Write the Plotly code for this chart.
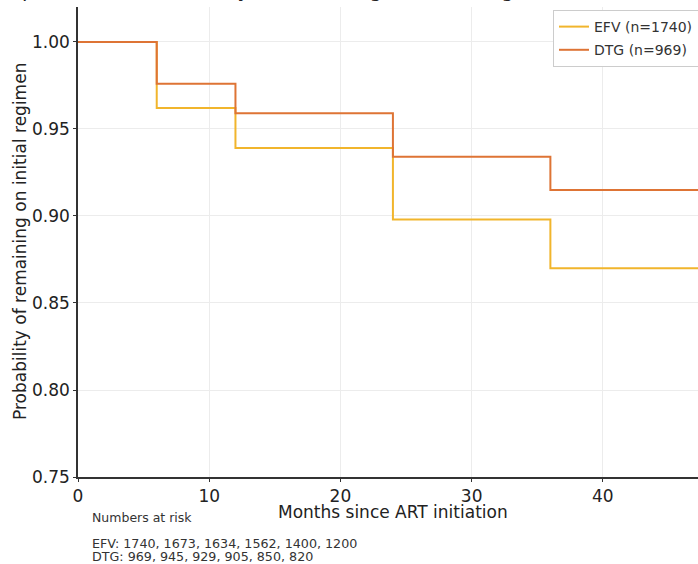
import plotly.graph_objects as go

# Data
months = [0, 6, 12, 24, 36, 48]
efv_surv = [1.000, 0.962, 0.939, 0.898, 0.870, 0.870]
dtg_surv = [1.000, 0.976, 0.959, 0.934, 0.915, 0.915]
efv_name = "EFV (n=1740)"
dtg_name = "DTG (n=969)"
efv_risk = [1740, 1673, 1634, 1562, 1400, 1200]
dtg_risk = [969, 945, 929, 905, 850, 820]
x_ticks = [0, 10, 20, 30, 40]
y_ticks = [0.75, 0.80, 0.85, 0.90, 0.95, 1.00]

EFV_COLOR = "#F1B52C"
DTG_COLOR = "#DE7435"
FONT = "DejaVu Sans"

fig = go.Figure()
fig.add_trace(go.Scatter(x=months, y=efv_surv, mode="lines", name=efv_name, legendgroup="efv",
                         line=dict(shape="hv", color=EFV_COLOR, width=2)))
fig.add_trace(go.Scatter(x=months, y=dtg_surv, mode="lines", name=dtg_name, legendgroup="dtg",
                         line=dict(shape="hv", color=DTG_COLOR, width=2)))

W, H = 698, 564
L, R, T, B = 78, 0, 7, 87
ph = H - T - B
pw = W - L - R

def px_x(p):
    return (p - L) / pw

def px_y(p):
    return (H - B - p) / ph

fig.update_layout(
    width=W, height=H,
    margin=dict(l=L, r=R, t=T, b=B, autoexpand=False),
    paper_bgcolor="white", plot_bgcolor="white",
    font=dict(family=FONT, color="#222222"),
    showlegend=True,
    legend=dict(x=px_x(553), y=px_y(10), xanchor="left", yanchor="top",
                bgcolor="white", bordercolor="#cccccc", borderwidth=1,
                font=dict(size=14, family=FONT, color="#333333"),
                tracegroupgap=2),
)
fig.update_xaxes(range=[0, 47.25], tickvals=x_ticks, showgrid=True, gridcolor="#ececec",
                 gridwidth=1, showline=True, linecolor="#333333", linewidth=1.5,
                 ticks="outside", ticklen=3, tickcolor="#333333", zeroline=False,
                 automargin=False,
                 tickfont=dict(size=17, family=FONT, color="#222222"))
fig.update_yaxes(range=[0.75, 1.0201], tickvals=y_ticks, tickformat=".2f", showgrid=True,
                 gridcolor="#ececec", gridwidth=1, showline=True, linecolor="#333333",
                 linewidth=1.5, ticks="outside", ticklen=3, tickcolor="#333333",
                 zeroline=False, automargin=False,
                 tickfont=dict(size=17, family=FONT, color="#222222"))

# Title (mostly cropped off the top in the reference)
fig.add_annotation(text="Kaplan–Meier: Probability of remaining on initial regimen (EFV vs DTG)",
                   xref="paper", yref="paper", x=px_x(349), y=px_y(4),
                   xanchor="center", yanchor="bottom", showarrow=False,
                   font=dict(size=20, family=FONT, color="#222222"))

# Axis titles
fig.add_annotation(text="Months since ART initiation", xref="paper", yref="paper",
                   x=px_x(393), y=px_y(512), xanchor="center", yanchor="middle",
                   showarrow=False, font=dict(size=17, family=FONT, color="#222222"))
fig.add_annotation(text="Probability of remaining on initial regimen", xref="paper", yref="paper",
                   x=px_x(20), y=px_y(242), xanchor="center", yanchor="middle",
                   textangle=-90, showarrow=False,
                   font=dict(size=17, family=FONT, color="#222222"))

# Numbers at risk
fig.add_annotation(text="Numbers at risk", xref="paper", yref="paper",
                   x=px_x(90), y=px_y(517), xanchor="left", yanchor="middle",
                   showarrow=False, font=dict(size=12.5, family=FONT, color="#333333"))
fig.add_annotation(text="EFV: " + ", ".join(str(v) for v in efv_risk), xref="paper", yref="paper",
                   x=px_x(90), y=px_y(543), xanchor="left", yanchor="middle",
                   showarrow=False, font=dict(size=12.7, family=FONT, color="#333333"))
fig.add_annotation(text="DTG: " + ", ".join(str(v) for v in dtg_risk), xref="paper", yref="paper",
                   x=px_x(90), y=px_y(556), xanchor="left", yanchor="middle",
                   showarrow=False, font=dict(size=12.7, family=FONT, color="#333333"))

fig.write_html("out.html", config={"displayModeBar": False},
               post_script="document.body.style.margin='0';document.body.style.overflow='hidden';")
